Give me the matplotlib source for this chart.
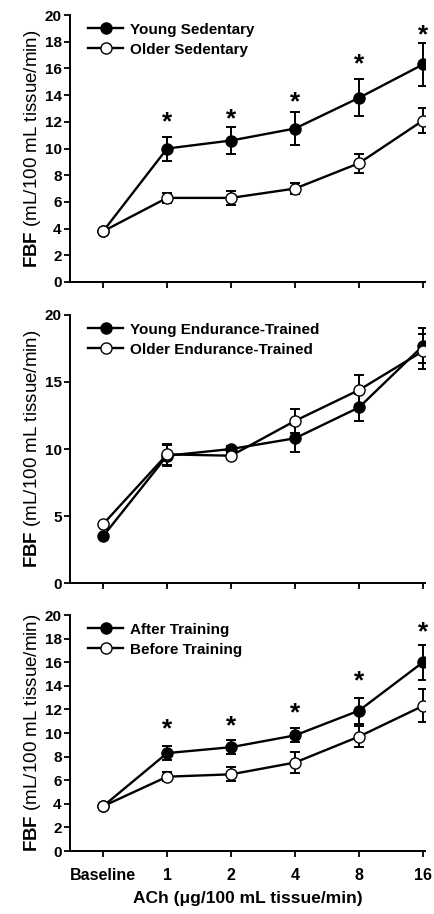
import matplotlib.pyplot as plt
from matplotlib.lines import Line2D
import numpy as np

plt.rcParams['font.family'] = ['Liberation Sans', 'DejaVu Sans']
plt.rcParams['mathtext.fontset'] = 'custom'
plt.rcParams['mathtext.bf'] = 'Liberation Sans:bold'
plt.rcParams['mathtext.rm'] = 'Liberation Sans'

doses = ["Baseline", "1", "2", "4", "8", "16"]

# panel 1
young_sed = [3.8, 10.0, 10.6, 11.5, 13.8, 16.3]
young_sed_err = [0.0, 0.9, 1.0, 1.2, 1.4, 1.6]
older_sed = [3.8, 6.3, 6.3, 7.0, 8.9, 12.1]
older_sed_err = [0.0, 0.4, 0.5, 0.4, 0.7, 0.9]
stars1 = [None, 12.0, 12.2, 13.5, 16.3, 18.5]

# panel 2
young_et = [3.5, 9.5, 10.0, 10.8, 13.1, 17.7]
young_et_err = [0.0, 0.8, 0.2, 1.0, 1.0, 1.3]
older_et = [4.4, 9.6, 9.5, 12.1, 14.4, 17.3]
older_et_err = [0.0, 0.8, 0.2, 0.9, 1.1, 1.3]

# panel 3
after_tr = [3.8, 8.3, 8.8, 9.8, 11.9, 16.0]
after_tr_err = [0.0, 0.6, 0.6, 0.6, 1.1, 1.5]
before_tr = [3.8, 6.3, 6.5, 7.5, 9.7, 12.3]
before_tr_err = [0.0, 0.4, 0.6, 0.9, 0.9, 1.4]
stars3 = [None, 10.3, 10.6, 11.7, 14.4, 18.5]

fig = plt.figure(figsize=(4.34, 9.14), dpi=100)
ax1 = fig.add_axes([0.161, 0.6915, 0.818, 0.292])
ax2 = fig.add_axes([0.161, 0.3621, 0.818, 0.2933])
ax3 = fig.add_axes([0.161, 0.0689, 0.818, 0.2582])

x = np.arange(len(doses))

def panel(ax, filled, ferr, opened, oerr, labels, yticks, stars=None):
    ax.errorbar(x, filled, yerr=ferr, color='black', marker='o', markersize=8,
                mfc='black', mec='black', lw=1.7, capsize=3.5, elinewidth=1.4,
                capthick=1.4, zorder=3)
    ax.errorbar(x, opened, yerr=oerr, color='black', marker='o', markersize=8,
                mfc='white', mec='black', lw=1.7, capsize=3.5, elinewidth=1.4,
                capthick=1.4, zorder=4)
    if stars:
        for xi, s in zip(x, stars):
            if s is not None:
                ax.text(xi, s, "*", ha='center', va='center', fontsize=19, fontweight='bold')
    ax.set_xlim(-0.52, 5.03)
    ax.set_ylim(0, 20)
    ax.set_yticks(yticks)
    ax.set_xticks(x)
    ax.spines['top'].set_visible(False)
    ax.spines['right'].set_visible(False)
    ax.spines['left'].set_linewidth(1.4)
    ax.spines['bottom'].set_linewidth(1.4)
    ax.tick_params(direction='out', length=4, width=1.3, labelsize=11, pad=2)
    for t in ax.get_yticklabels():
        t.set_fontweight('bold')
    ax.set_ylabel(r"$\mathbf{FBF}$ (mL/100 mL tissue/min)", fontsize=13.5, labelpad=1)
    handles = [
        Line2D([], [], color='black', lw=1.7, marker='o', markersize=8, mfc='black', mec='black'),
        Line2D([], [], color='black', lw=1.7, marker='o', markersize=8, mfc='white', mec='black'),
    ]
    ax.legend(handles, labels, loc='upper left', frameon=False, handlelength=2.3,
              bbox_to_anchor=(0.03, 1.0), borderaxespad=0.1, labelspacing=0.4,
              handletextpad=0.45, prop={'weight': 'bold', 'size': 11})

panel(ax1, young_sed, young_sed_err, older_sed, older_sed_err,
      ["Young Sedentary", "Older Sedentary"], np.arange(0, 21, 2), stars1)
panel(ax2, young_et, young_et_err, older_et, older_et_err,
      ["Young Endurance-Trained", "Older Endurance-Trained"], np.arange(0, 21, 5))
panel(ax3, after_tr, after_tr_err, before_tr, before_tr_err,
      ["After Training", "Before Training"], np.arange(0, 21, 2), stars3)

ax1.set_xticklabels([])
ax2.set_xticklabels([])
ax3.set_xticklabels(doses, fontweight='bold', fontsize=11.5)
ax3.tick_params(axis='x', pad=8)
ax3.set_xlabel("ACh (\u03bcg/100 mL tissue/min)", fontweight='bold', fontsize=12.5, labelpad=6)

fig.savefig("out.png", dpi=100)
